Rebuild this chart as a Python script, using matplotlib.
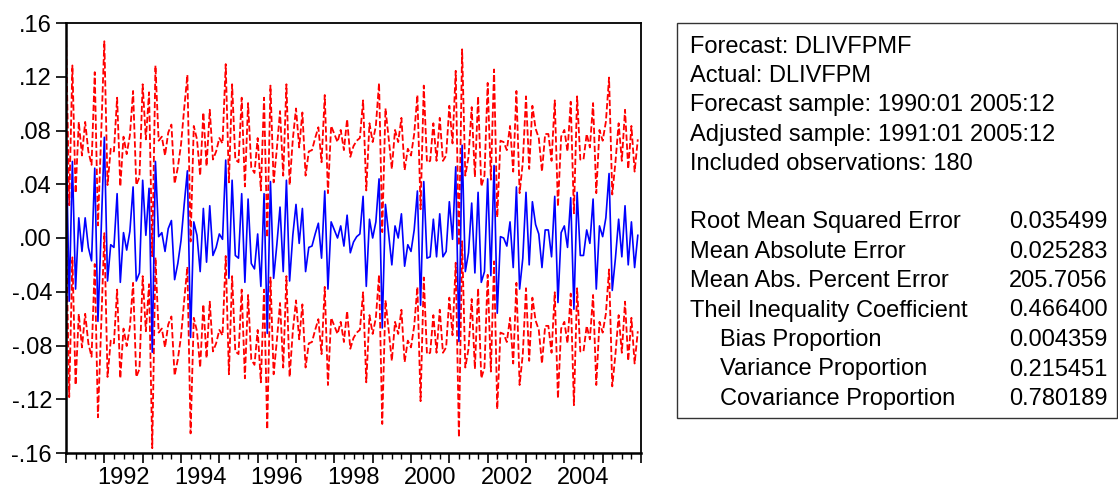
import numpy as np
import matplotlib
matplotlib.use("Agg")
import matplotlib.pyplot as plt
from matplotlib.patches import Rectangle

plt.rcParams['font.family'] = ['Liberation Sans', 'DejaVu Sans']

# static forecast DLIVFPMF, monthly 1991:01 - 2005:12
forecast = [
    .082, -.047, .057, -.038, .015, -.010, .015, -.007, -.017, .052, -.062, .005,   # 1991
    .075, -.032, -.005, -.007, .033, -.033, .004, -.009, .005, .038, -.032, -.026,  # 1992
    .043, .002, .037, -.085, .057, .001, .004, -.010, .007, .013, -.031, -.019,     # 1993
    -.002, .025, .050, -.074, .012, .002, -.025, .022, -.018, .024, -.013, -.007,   # 1994
    .003, -.001, .058, -.030, .043, -.013, -.015, .033, -.033, .029, -.019, -.023,  # 1995
    .003, -.036, .033, -.071, .042, -.030, -.005, .023, -.025, .043, -.032, .002,   # 1996
    .025, -.004, .022, -.025, -.007, -.006, .003, .011, -.015, .035, -.038, .012,   # 1997
    .006, .000, .009, -.006, .017, -.011, -.003, .001, .003, .031, -.036, .014,     # 1998
    .000, .012, .044, -.067, .025, .003, -.020, .009, .000, .018, -.021, -.005,     # 1999
    -.010, .006, .035, -.050, .042, -.015, -.014, .014, -.014, .018, -.014, -.010,  # 2000
    .027, -.001, .053, -.077, .069, -.025, -.011, .026, -.026, .034, -.033, -.025,  # 2001
    .044, -.028, .054, -.056, .001, .000, -.006, .012, -.022, .038, -.038, -.015,   # 2002
    .034, -.020, .027, .010, .003, -.022, .006, .006, -.014, .031, -.048, .004,     # 2003
    .009, -.007, .030, -.053, .034, -.013, -.013, .006, -.004, .029, -.038, .009,   # 2004
    .001, .015, .048, -.039, -.015, .014, -.014, .024, -.020, .012, -.022, .002,    # 2005
]
se = 0.0357   # forecast standard error

start_year = 1991
end_year = 2006
label_years = [1992, 1994, 1996, 1998, 2000, 2002, 2004]
yticks = [.16, .12, .08, .04, .00, -.04, -.08, -.12, -.16]
ytick_labels = [".16", ".12", ".08", ".04", ".00", "-.04", "-.08", "-.12", "-.16"]

header_lines = [
    "Forecast: DLIVFPMF",
    "Actual: DLIVFPM",
    "Forecast sample: 1990:01 2005:12",
    "Adjusted sample: 1991:01 2005:12",
    "Included observations: 180",
]
stat_names = [
    "Root Mean Squared Error",
    "Mean Absolute Error",
    "Mean Abs. Percent Error",
    "Theil Inequality Coefficient",
    "Bias Proportion",
    "Variance Proportion",
    "Covariance Proportion",
]
stat_indent = [False, False, False, False, True, True, True]
stat_values = ["0.035499", "0.025283", "205.7056", "0.466400",
               "0.004359", "0.215451", "0.780189"]

FS = 17

f = np.array(forecast)
t = start_year + np.arange(len(f)) / 12.0

fig = plt.figure(figsize=(11.18, 4.91), dpi=100)
ax = fig.add_axes([66/1118, 1 - 453/491, 575/1118, 430/491])

ax.plot(t, f + 2*se, color='red', lw=1.3, ls=(0, (3.5, 1.5)))
ax.plot(t, f - 2*se, color='red', lw=1.3, ls=(0, (3.5, 1.5)))
ax.plot(t, f, color='blue', lw=1.2)

ax.set_xlim(start_year, end_year)
ax.set_ylim(-.16, .16)
ax.set_yticks(yticks)
ax.set_yticklabels(ytick_labels, fontsize=FS)
ax.tick_params(axis='y', direction='out', length=7, width=1.2, pad=3)

ax.set_xticks(np.arange(start_year, end_year + 1))
ax.set_xticks(np.arange(start_year, end_year, 0.25), minor=True)
ax.set_xticklabels([])
ax.tick_params(axis='x', which='major', direction='out', length=7, width=1.2)
ax.tick_params(axis='x', which='minor', direction='out', length=4, width=1.0)

sec = ax.secondary_xaxis('bottom')
sec.set_xticks([y + 0.5 for y in label_years])
sec.set_xticklabels([str(y) for y in label_years], fontsize=FS)
sec.tick_params(length=0, pad=10)
sec.spines['bottom'].set_visible(False)

for s in ax.spines.values():
    s.set_linewidth(1.3)
    s.set_color('black')
ax.spines['left'].set_linewidth(1.8)
ax.spines['bottom'].set_linewidth(1.8)

# statistics box
fig.patches.append(Rectangle((677/1118, 1 - 418/491), (1117 - 677)/1118, (418 - 23)/491,
                             transform=fig.transFigure, fill=False, ec='#333333', lw=1.0))
x_left = 690/1118
x_indent = 720/1118
x_right = 1108/1118
for k, line in enumerate(header_lines):
    fig.text(x_left, 1 - (47 + 29.2*k)/491, line, fontsize=FS, va='center', ha='left')
for k, (name, val) in enumerate(zip(stat_names, stat_values)):
    y = 1 - (222 + 29.5*k)/491
    fig.text(x_indent if stat_indent[k] else x_left, y, name, fontsize=FS, va='center', ha='left')
    fig.text(x_right, y, val, fontsize=FS, va='center', ha='right')

fig.savefig("out.png", dpi=100)
